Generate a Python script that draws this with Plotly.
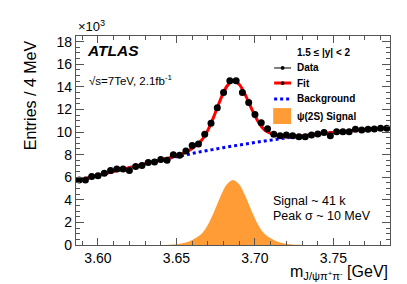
import plotly.graph_objects as go

# ---- data (thousands of entries per 4 MeV bin) ----
bin_width = 0.004
bin_start = 3.586
n_bins = 50
bin_centers = [round(bin_start + bin_width * (i + 0.5), 3) for i in range(n_bins)]
data_counts = [5.76, 5.76, 6.06, 6.12, 6.35, 6.59, 6.73, 6.73, 6.59, 6.94,
               7.03, 7.30, 7.35, 7.56, 7.50, 7.98, 7.94, 8.32, 8.80, 8.94,
               9.80, 10.77, 12.15, 13.50, 14.54, 14.54, 13.50, 12.62, 11.56, 10.83,
               10.30, 9.80, 9.68, 9.74, 9.68, 9.59, 9.59, 9.74, 9.82, 9.95,
               9.68, 10.03, 10.03, 10.03, 10.24, 10.18, 10.24, 10.26, 10.33, 10.33]

# curve sampling grid (GeV) and curve values
curve_mass = [3.586, 3.600, 3.620, 3.640, 3.650, 3.654, 3.658, 3.662, 3.666, 3.670,
              3.674, 3.678, 3.682, 3.686, 3.690, 3.694, 3.698, 3.702, 3.706, 3.710,
              3.714, 3.718, 3.722, 3.730, 3.740, 3.760, 3.786]
background = [5.68, 6.15, 6.85, 7.52, 7.82, 7.93, 8.04, 8.16, 8.27, 8.37,
              8.47, 8.57, 8.67, 8.76, 8.85, 8.94, 9.03, 9.12, 9.20, 9.28,
              9.36, 9.44, 9.52, 9.65, 9.82, 10.10, 10.38]
signal = [0.0, 0.0, 0.0, 0.0, 0.07, 0.15, 0.32, 0.60, 1.00, 1.80,
          2.97, 4.30, 5.36, 5.76, 5.36, 4.30, 2.97, 1.80, 1.00, 0.60,
          0.32, 0.15, 0.07, 0.01, 0.0, 0.0, 0.0]
fit = [b + s for b, s in zip(background, signal)]

x_range = [3.586, 3.786]
y_range = [0, 18.5]
x_ticks = [3.60, 3.65, 3.70, 3.75]
x_tick_labels = ["3.60", "3.65", "3.70", "3.75"]
y_ticks = [0, 2, 4, 6, 8, 10, 12, 14, 16, 18]
y_tick_labels = [str(v) for v in y_ticks]

legend_labels = ["Data", "Fit", "Background", "ψ(2S) Signal"]

FONT = "Liberation Sans, Arial, Helvetica, sans-serif"
AXC = "#555555"
ORANGE = "#ff9c35"

fig = go.Figure()
fig.add_trace(go.Scatter(x=curve_mass, y=signal, mode="lines", line=dict(color=ORANGE, width=0, shape="spline"),
                         fill="tozeroy", fillcolor=ORANGE, name=legend_labels[3]))
fig.add_trace(go.Scatter(x=curve_mass, y=background, mode="lines",
                         line=dict(color="#0000ff", width=3, dash="dot", shape="spline"),
                         name=legend_labels[2]))
fig.add_trace(go.Scatter(x=curve_mass, y=fit, mode="lines",
                         line=dict(color="#ff0000", width=3, shape="spline", smoothing=0.8),
                         name=legend_labels[1]))
fig.add_trace(go.Scatter(x=bin_centers, y=data_counts, mode="markers",
                         marker=dict(color="black", size=7, symbol="circle"),
                         name=legend_labels[0]))

fig.update_layout(
    width=407, height=284,
    margin=dict(l=68, r=25, t=28, b=47),
    paper_bgcolor="white", plot_bgcolor="white",
    font=dict(family=FONT, color="black"),
    showlegend=False,
)
fig.update_xaxes(range=x_range, tickvals=x_ticks, ticktext=x_tick_labels,
                 ticks="inside", ticklen=7, tickwidth=1, tickcolor=AXC,
                 showline=True, linecolor=AXC, linewidth=1.2, mirror="allticks",
                 showgrid=False, zeroline=False,
                 tickfont=dict(size=14, family=FONT, color="black"),
                 minor=dict(dtick=0.01, tick0=3.60, ticks="inside", ticklen=4, tickcolor=AXC, showgrid=False))
fig.update_yaxes(range=y_range, tickvals=y_ticks, ticktext=y_tick_labels,
                 ticks="inside", ticklen=8, tickwidth=1, tickcolor=AXC,
                 showline=True, linecolor=AXC, linewidth=1.2, mirror="allticks",
                 showgrid=False, zeroline=False,
                 tickfont=dict(size=14, family=FONT, color="black"),
                 minor=dict(dtick=0.5, tick0=0, ticks="inside", ticklen=4, tickcolor=AXC, showgrid=False))

# ---- manual legend (paper coordinates) ----
leg_x0, leg_x1, leg_text_x = 0.631, 0.685, 0.697
leg_rows = [0.847, 0.775, 0.699, 0.617]
dot_r_x, dot_r_y = 0.006, 0.009
# Data
fig.add_shape(type="line", xref="paper", yref="paper", x0=leg_x0, x1=leg_x1, y0=leg_rows[0], y1=leg_rows[0],
              line=dict(color="black", width=1))
# Fit
fig.add_shape(type="line", xref="paper", yref="paper", x0=leg_x0, x1=leg_x1, y0=leg_rows[1], y1=leg_rows[1],
              line=dict(color="#ff0000", width=3))
for r in leg_rows[:2]:
    xm = (leg_x0 + leg_x1) / 2
    fig.add_shape(type="circle", xref="paper", yref="paper", x0=xm - dot_r_x, x1=xm + dot_r_x,
                  y0=r - dot_r_y, y1=r + dot_r_y, fillcolor="black", line=dict(color="black", width=0))
# Background
fig.add_shape(type="line", xref="paper", yref="paper", x0=leg_x0, x1=leg_x1, y0=leg_rows[2], y1=leg_rows[2],
              line=dict(color="#0000ff", width=3, dash="dot"))
# Signal
fig.add_shape(type="rect", xref="paper", yref="paper", x0=leg_x0 - 0.003, x1=leg_x1, y0=leg_rows[3] - 0.038,
              y1=leg_rows[3] + 0.038, fillcolor=ORANGE, line=dict(width=0))

ann = [
    dict(text="×10<sup>3</sup>", x=0.0, y=1.0, xanchor="left", yanchor="bottom", font=dict(size=13)),
    dict(text="<b><i>ATLAS</i></b>", x=0.03, y=0.933, xanchor="left", yanchor="middle", font=dict(size=15.5)),
    dict(text="√s=7TeV, 2.1fb<sup>-1</sup>", x=0.036, y=0.79, xanchor="left", yanchor="middle", font=dict(size=11.5)),
    dict(text="<b>1.5 ≤ |y| < 2</b>", x=leg_text_x, y=0.923, xanchor="left", yanchor="middle", font=dict(size=10)),
    dict(text="Signal ~ 41 k", x=0.62, y=0.211, xanchor="left", yanchor="middle", font=dict(size=12.5)),
    dict(text="Peak σ ~ 10 MeV", x=0.62, y=0.139, xanchor="left", yanchor="middle", font=dict(size=12.5)),
    dict(text="Entries / 4 MeV", x=-0.146, y=0.99, xanchor="center", yanchor="top", textangle=-90, font=dict(size=16)),
    dict(text="m<sub>J/ψπ<sup>+</sup>π<sup>-</sup></sub> [GeV]", x=1.0, y=-0.13, xanchor="right", yanchor="middle", font=dict(size=16)),
]
for lab, r in zip(legend_labels, leg_rows):
    ann.append(dict(text="<b>" + lab + "</b>", x=leg_text_x, y=r, xanchor="left", yanchor="middle", font=dict(size=10)))
for a in ann:
    a.update(xref="paper", yref="paper", showarrow=False)
    a["font"].update(family=FONT, color="black")
    fig.add_annotation(**a)

fig.write_html("out.html")
